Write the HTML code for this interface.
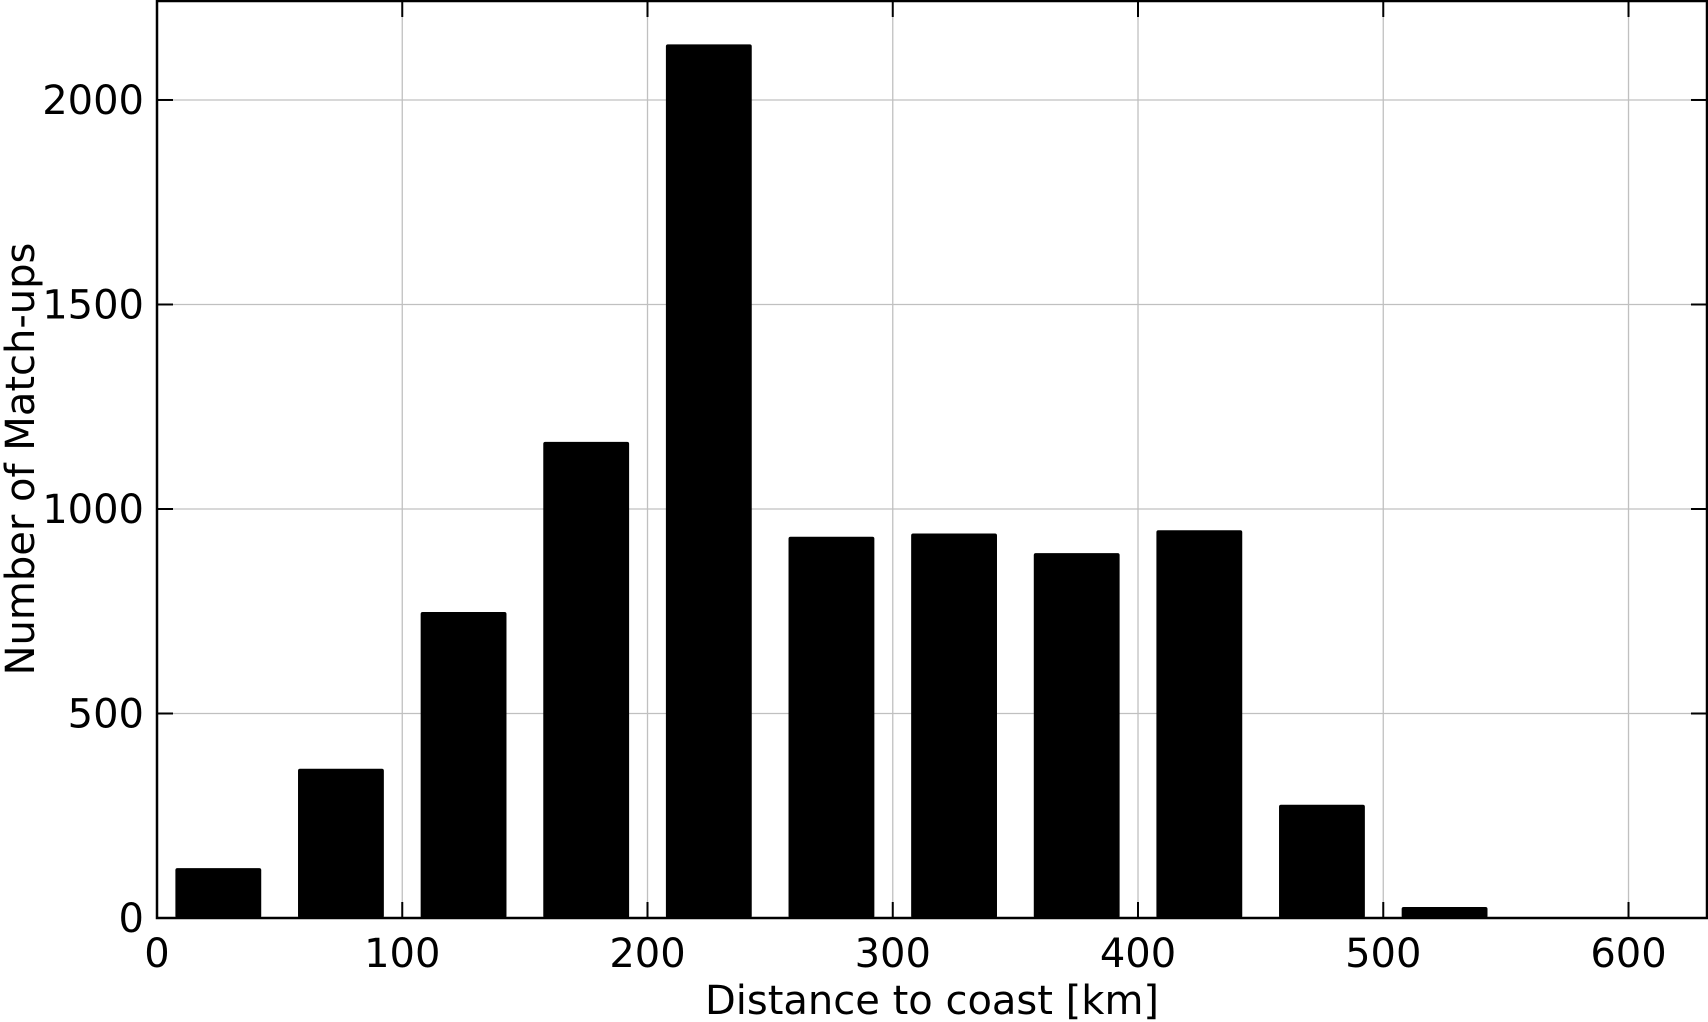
<!DOCTYPE html>
<html><head><meta charset="utf-8"><style>
html,body{margin:0;padding:0;background:#fff;}
svg{display:block;font-family:"DejaVu Sans","Liberation Sans",sans-serif;}
</style></head><body>
<svg id="chart" width="1708" height="1022" viewBox="0 0 1708 1022" xmlns="http://www.w3.org/2000/svg">
<g id="grid"></g>
<g id="bars"></g>
<g id="ticks"></g>
<rect x="157" y="1" width="1550" height="917" fill="none" stroke="#000" stroke-width="2.5"/>
<text x="932" y="1014" text-anchor="middle" font-size="40">Distance to coast [km]</text>
<text transform="translate(34,459) rotate(-90)" text-anchor="middle" font-size="40">Number of Match-ups</text>
</svg>
<script>
const binCenters = [25,75,125,175,225,275,325,375,425,475,525];
const counts = [122,365,748,1164,2136,932,940,892,948,277,27];
const xTickLabels = [0,100,200,300,400,500,600];
const yTickLabels = [0,500,1000,1500,2000];
const L=157,R=1707,T=1,B=918, xMax=632, yMax=2242, barW=35;
const xs=v=>L+v/xMax*(R-L);
const ys=v=>B-v/yMax*(B-T);
const NS="http://www.w3.org/2000/svg";
const grid=document.getElementById('grid'),bars=document.getElementById('bars'),ticks=document.getElementById('ticks');
function mk(tag,attrs,parent){const e=document.createElementNS(NS,tag);for(const k in attrs)e.setAttribute(k,attrs[k]);parent.appendChild(e);return e;}
xTickLabels.forEach(v=>{
  const x=xs(v);
  const g=mk('line',{x1:x,x2:x,y1:T,y2:B,stroke:'#c0c0c0','stroke-width':1.3},grid);
  
  
  const t1=mk('line',{x1:x,x2:x,y1:B,y2:B-16,stroke:'#000','stroke-width':2},ticks);
  
  
  const t2=mk('line',{x1:x,x2:x,y1:T,y2:T+16,stroke:'#000','stroke-width':2},ticks);
  
  
  const lb=mk('text',{x:x,y:967,'text-anchor':'middle','font-size':40},ticks);
  lb.textContent=v;
  
  
});
yTickLabels.forEach(v=>{
  const y=ys(v);
  const g=mk('line',{x1:L,x2:R,y1:y,y2:y,stroke:'#c0c0c0','stroke-width':1.3},grid);
  
  
  const t1=mk('line',{x1:L,x2:L+16,y1:y,y2:y,stroke:'#000','stroke-width':2},ticks);
  
  
  const t2=mk('line',{x1:R,x2:R-16,y1:y,y2:y,stroke:'#000','stroke-width':2},ticks);
  
  
  const lb=mk('text',{x:144,y:y+14,'text-anchor':'end','font-size':40},ticks);
  lb.textContent=v;
  
  
});
binCenters.forEach((c,i)=>{
  const x0=xs(c-barW/2),x1=xs(c+barW/2),y=ys(counts[i]);
  const r=mk('rect',{x:x0,y:y,width:x1-x0,height:B-y,fill:'#000',rx:2},bars);
  
  
});
</script>
</body></html>
